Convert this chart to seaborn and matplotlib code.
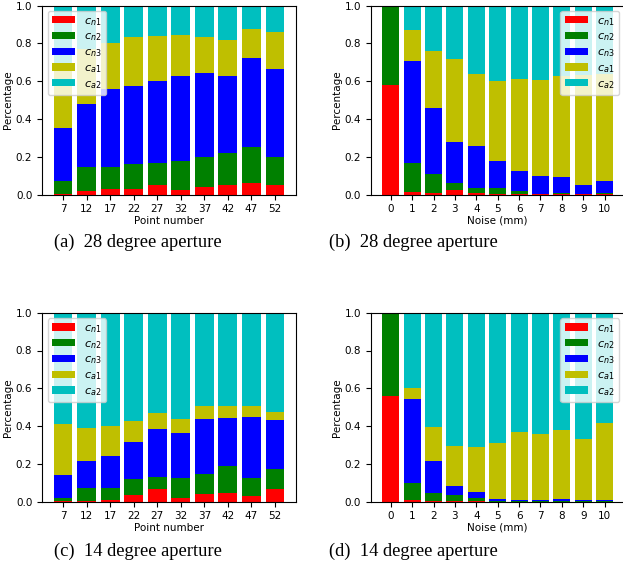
import numpy as np
import matplotlib
matplotlib.use('Agg')
import matplotlib.pyplot as plt
import seaborn as sns

# x tick labels
point_numbers = ['7', '12', '17', '22', '27', '32', '37', '42', '47', '52']
noise_levels = ['0', '1', '2', '3', '4', '5', '6', '7', '8', '9', '10']

class_labels = ['$c_{n1}$', '$c_{n2}$', '$c_{n3}$', '$c_{a1}$', '$c_{a2}$']
class_colors = ['r', 'g', 'b', 'y', 'c']

# (a) 28 degree aperture, by point number (share of each class)
a_cn1 = [0.003, 0.018, 0.030, 0.030, 0.051, 0.026, 0.041, 0.051, 0.062, 0.048]
a_cn2 = [0.069, 0.125, 0.113, 0.134, 0.117, 0.149, 0.160, 0.166, 0.187, 0.153]
a_cn3 = [0.281, 0.337, 0.416, 0.411, 0.433, 0.453, 0.443, 0.411, 0.474, 0.464]
a_ca1 = [0.337, 0.290, 0.243, 0.259, 0.240, 0.217, 0.190, 0.190, 0.154, 0.196]
a_ca2 = [0.310, 0.230, 0.198, 0.166, 0.159, 0.155, 0.166, 0.182, 0.123, 0.139]

# (b) 28 degree aperture, by noise
b_cn1 = [0.580, 0.014, 0.007, 0.026, 0.009, 0.002, 0.003, 0.002, 0.005, 0.002, 0.003]
b_cn2 = [0.420, 0.154, 0.104, 0.036, 0.028, 0.035, 0.013, 0.002, 0.001, 0.003, 0.007]
b_cn3 = [0.000, 0.539, 0.349, 0.217, 0.217, 0.138, 0.109, 0.096, 0.084, 0.046, 0.059]
b_ca1 = [0.000, 0.164, 0.300, 0.439, 0.386, 0.426, 0.487, 0.508, 0.538, 0.579, 0.571]
b_ca2 = [0.000, 0.129, 0.240, 0.282, 0.360, 0.399, 0.388, 0.392, 0.372, 0.370, 0.360]

# (c) 14 degree aperture, by point number
c_cn1 = [0.004, 0.002, 0.011, 0.035, 0.067, 0.021, 0.042, 0.046, 0.032, 0.067]
c_cn2 = [0.016, 0.072, 0.063, 0.085, 0.063, 0.106, 0.106, 0.144, 0.095, 0.106]
c_cn3 = [0.121, 0.141, 0.168, 0.196, 0.254, 0.236, 0.289, 0.253, 0.321, 0.259]
c_ca1 = [0.270, 0.175, 0.158, 0.111, 0.085, 0.074, 0.069, 0.063, 0.058, 0.042]
c_ca2 = [0.589, 0.610, 0.600, 0.573, 0.531, 0.563, 0.494, 0.494, 0.494, 0.526]

# (d) 14 degree aperture, by noise
d_cn1 = [0.561, 0.011, 0.005, 0.005, 0.003, 0.001, 0.001, 0.001, 0.001, 0.001, 0.001]
d_cn2 = [0.439, 0.088, 0.041, 0.030, 0.015, 0.003, 0.003, 0.002, 0.004, 0.002, 0.002]
d_cn3 = [0.000, 0.444, 0.169, 0.050, 0.035, 0.012, 0.006, 0.007, 0.010, 0.007, 0.007]
d_ca1 = [0.000, 0.058, 0.180, 0.210, 0.238, 0.296, 0.360, 0.350, 0.366, 0.323, 0.406]
d_ca2 = [0.000, 0.399, 0.605, 0.705, 0.709, 0.688, 0.630, 0.640, 0.619, 0.667, 0.584]

captions = ['(a)  28 degree aperture', '(b)  28 degree aperture',
            '(c)  14 degree aperture', '(d)  14 degree aperture']

FS = 7.5


def stacked_panel(ax, ticks, shares, xlabel, legend_loc):
    cum = np.cumsum(np.array(shares), axis=0)
    # draw from the top of the stack down so lower segments sit on top
    for i in range(len(shares) - 1, -1, -1):
        sns.barplot(x=ticks, y=cum[i], color=class_colors[i], saturation=1,
                    errorbar=None, label=class_labels[i], ax=ax)
    n = len(ticks)
    pad = 0.05 * (n - 0.2)
    ax.set_xlim(-0.4 - pad, n - 0.6 + pad)
    ax.set_ylim(0, 1.0)
    ax.set_xlabel(xlabel, fontsize=FS, labelpad=1)
    ax.set_ylabel('Percentage', fontsize=FS, labelpad=2)
    ax.tick_params(labelsize=FS)
    handles, labels = ax.get_legend_handles_labels()
    ax.legend(handles[::-1], labels[::-1], loc=legend_loc, fontsize=8.2,
              labelspacing=0.35, handlelength=2.0, handleheight=0.6)


fig = plt.figure(figsize=(6.23, 5.67), dpi=100)
W, H = 623, 567
axw, axh = 254 / W, 189 / H
ax_a = fig.add_axes([42 / W, 1 - 194.5 / H, axw, axh])
ax_b = fig.add_axes([370.7 / W, 1 - 194.5 / H, axw, axh])
ax_c = fig.add_axes([42 / W, 1 - 501.7 / H, axw, axh])
ax_d = fig.add_axes([370.7 / W, 1 - 501.7 / H, axw, axh])

stacked_panel(ax_a, point_numbers, [a_cn1, a_cn2, a_cn3, a_ca1, a_ca2],
              'Point number', 'upper left')
stacked_panel(ax_b, noise_levels, [b_cn1, b_cn2, b_cn3, b_ca1, b_ca2],
              'Noise (mm)', 'upper right')
stacked_panel(ax_c, point_numbers, [c_cn1, c_cn2, c_cn3, c_ca1, c_ca2],
              'Point number', 'upper left')
stacked_panel(ax_d, noise_levels, [d_cn1, d_cn2, d_cn3, d_ca1, d_ca2],
              'Noise (mm)', 'upper right')

cap_pos = [(138, 242), (413, 242), (138, 551), (413, 551)]
for (cx, cy), txt in zip(cap_pos, captions):
    fig.text(cx / W, 1 - cy / H, txt, ha='center', va='center',
             family='Liberation Serif', fontsize=13.3)

fig.savefig('out.png', dpi=100)
